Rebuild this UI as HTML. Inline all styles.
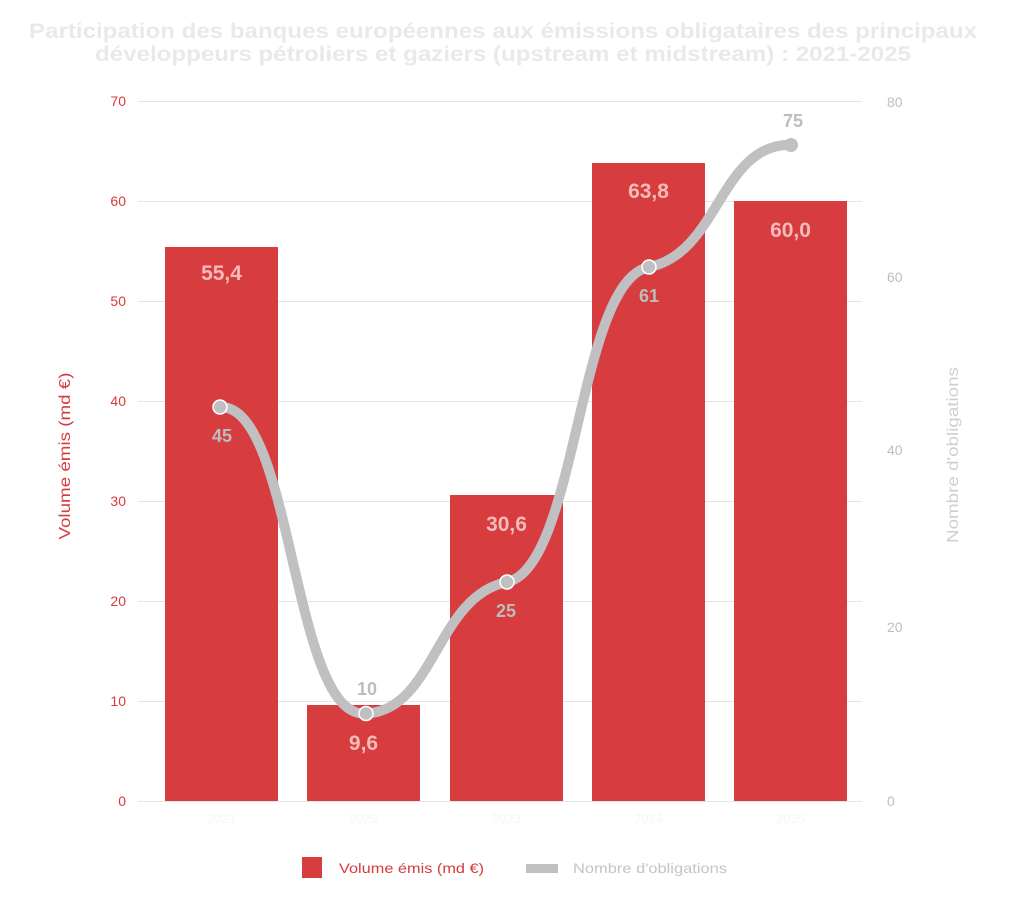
<!DOCTYPE html>
<html><head><meta charset="utf-8"><style>
html,body{margin:0;padding:0;background:#fff;}
svg{display:block;}
text{font-family:"Liberation Sans",sans-serif;}
</style></head><body>
<svg width="1010" height="911" viewBox="0 0 1010 911" xmlns="http://www.w3.org/2000/svg">
<rect width="1010" height="911" fill="#fff"/>
<!-- title -->
<text x="503" y="38" text-anchor="middle" font-size="21" font-weight="bold" fill="#e9e9e9" textLength="948" lengthAdjust="spacingAndGlyphs">Participation des banques européennes aux émissions obligataires des principaux</text>
<text x="503" y="61" text-anchor="middle" font-size="21" font-weight="bold" fill="#e9e9e9" textLength="816" lengthAdjust="spacingAndGlyphs">développeurs pétroliers et gaziers (upstream et midstream) : 2021-2025</text>
<!-- gridlines -->
<g stroke="#e4e4e4" stroke-width="1">
<line x1="138" y1="101.5" x2="862" y2="101.5"/>
<line x1="138" y1="201.5" x2="862" y2="201.5"/>
<line x1="138" y1="301.5" x2="862" y2="301.5"/>
<line x1="138" y1="401.5" x2="862" y2="401.5"/>
<line x1="138" y1="501.5" x2="862" y2="501.5"/>
<line x1="138" y1="601.5" x2="862" y2="601.5"/>
<line x1="138" y1="701.5" x2="862" y2="701.5"/>
<line x1="138" y1="801.5" x2="862" y2="801.5"/>
</g>
<!-- left axis labels -->
<g font-size="14" fill="#d63b3e" text-anchor="end">
<text x="126" y="106">70</text>
<text x="126" y="206">60</text>
<text x="126" y="306">50</text>
<text x="126" y="406">40</text>
<text x="126" y="506">30</text>
<text x="126" y="606">20</text>
<text x="126" y="706">10</text>
<text x="126" y="806">0</text>
</g>
<!-- right axis labels -->
<g font-size="14" fill="#bdbdbd" text-anchor="start">
<text x="887" y="107">80</text>
<text x="887" y="282">60</text>
<text x="887" y="455">40</text>
<text x="887" y="632">20</text>
<text x="887" y="806">0</text>
</g>
<!-- axis titles -->
<text transform="translate(70,456) rotate(-90)" text-anchor="middle" font-size="16" fill="#d63b3e" textLength="167" lengthAdjust="spacingAndGlyphs">Volume émis (md €)</text>
<text transform="translate(958,455) rotate(-90)" text-anchor="middle" font-size="16" fill="#cfcfcf" textLength="176" lengthAdjust="spacingAndGlyphs">Nombre d'obligations</text>
<!-- bars -->
<g fill="#d73c3e">
<rect x="165" y="247" width="113" height="554"/>
<rect x="307" y="705" width="113" height="96"/>
<rect x="450" y="495" width="113" height="306"/>
<rect x="592" y="163" width="113" height="638"/>
<rect x="734" y="201" width="113" height="600"/>
</g>
<!-- x labels (nearly invisible) -->
<g font-size="13" fill="#f6f6f6" text-anchor="middle">
<text x="221.5" y="823">2021</text>
<text x="363.5" y="823">2022</text>
<text x="506.5" y="823">2023</text>
<text x="648.5" y="823">2024</text>
<text x="790.5" y="823">2025</text>
</g>
<!-- bar value labels -->
<g font-size="21" font-weight="bold" fill="#f5baba" text-anchor="middle">
<text x="221.5" y="280">55,4</text>
<text x="363.5" y="750">9,6</text>
<text x="506.5" y="531">30,6</text>
<text x="648.5" y="198">63,8</text>
<text x="790.5" y="237">60,0</text>
</g>
<!-- line -->
<path d="M221.5,407.25 C292.5,407.25 292.5,713.5 363.5,713.5 C434.5,713.5 435.5,596.45 506.5,582.25 C577.5,568.05 577.5,281.45 648.5,267.25 C719.5,253.05 719.5,144.75 790.5,144.75" fill="none" stroke="#c0bfc2" stroke-width="10" stroke-linecap="round"/>
<g fill="#c0bfc2" stroke="#fff" stroke-width="1.5">
<circle cx="220" cy="407" r="7"/>
<circle cx="366" cy="713.5" r="7"/>
<circle cx="507" cy="582" r="7"/>
<circle cx="649" cy="267" r="7"/>
<circle cx="791" cy="145" r="7" stroke="none"/>
</g>
<!-- line value labels -->
<g font-size="18" font-weight="bold" fill="#bdbdbd" text-anchor="middle">
<text x="222" y="442">45</text>
<text x="367" y="695">10</text>
<text x="506" y="617">25</text>
<text x="649" y="302">61</text>
<text x="793" y="127">75</text>
</g>
<!-- legend -->
<rect x="302" y="857" width="20" height="21" fill="#d73c3e"/>
<text x="339" y="873" font-size="14" fill="#d63b3e" textLength="145" lengthAdjust="spacingAndGlyphs">Volume émis (md €)</text>
<rect x="526" y="864" width="32" height="9" fill="#c0bfc2"/>
<text x="573" y="873" font-size="14" fill="#c4c4c4" textLength="154" lengthAdjust="spacingAndGlyphs">Nombre d'obligations</text>
</svg>
</body></html>
